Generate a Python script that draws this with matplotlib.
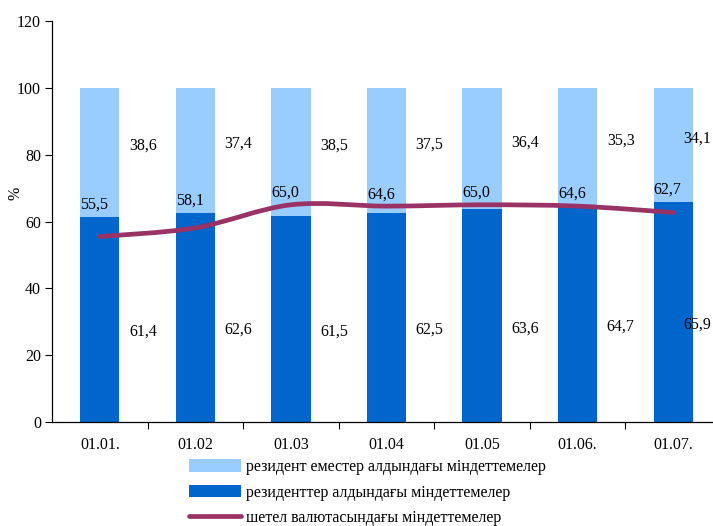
import matplotlib
matplotlib.use("Agg")
import matplotlib.pyplot as plt
from matplotlib.path import Path
from matplotlib.patches import PathPatch, Patch
from matplotlib.lines import Line2D
import numpy as np

categories = ["01.01.", "01.02", "01.03", "01.04", "01.05", "01.06.", "01.07."]
residents = [61.4, 62.6, 61.5, 62.5, 63.6, 64.7, 65.9]
non_residents = [38.6, 37.4, 38.5, 37.5, 36.4, 35.3, 34.1]
foreign_currency = [55.5, 58.1, 65.0, 64.6, 65.0, 64.6, 62.7]

labels_legend = ["резидент еместер алдындағы міндеттемелер",
                 "резиденттер алдындағы міндеттемелер",
                 "шетел валютасындағы міндеттемелер"]

plt.rcParams['font.family'] = ['Liberation Serif', 'DejaVu Serif']
FS = 11.5
plt.rcParams['font.size'] = FS

LIGHT = "#99CCFF"
DARK = "#0066CC"
LINE = "#993366"

W, H = 713, 526
fig = plt.figure(figsize=(W / 100, H / 100), dpi=100)
ax = fig.add_axes([52 / W, 104 / H, 669 / W, 401 / H])

x = np.arange(len(categories))
n = len(categories)
w = 0.41
ax.bar(x, residents, width=w, color=DARK, zorder=2)
ax.bar(x, non_residents, width=w, bottom=residents, color=LIGHT, zorder=2)

ax.set_xlim(-0.5, n - 0.5)
ax.set_ylim(0, 120)

# smooth line (Catmull-Rom converted to cubic Bezier), drawn in data coords
pts = np.column_stack([x, foreign_currency]).astype(float)
verts = [tuple(pts[0])]
codes = [Path.MOVETO]
for i in range(n - 1):
    p0 = pts[i - 1] if i > 0 else pts[i]
    p1 = pts[i]
    p2 = pts[i + 1]
    p3 = pts[i + 2] if i + 2 < n else pts[i + 1]
    c1 = p1 + (p2 - p0) / 6.0
    c2 = p2 - (p3 - p1) / 6.0
    verts += [tuple(c1), tuple(c2), tuple(p2)]
    codes += [Path.CURVE4, Path.CURVE4, Path.CURVE4]
ax.add_patch(PathPatch(Path(verts, codes), facecolor='none', edgecolor=LINE,
                       lw=3.4, capstyle='round', joinstyle='round', zorder=3))

# labels (kept inside the figure like the reference)
for i in range(n):
    cx_px = ax.transData.transform((x[i], 0))[0]
    off = min(31.0, (W - 16 - cx_px) * 72 / 100)
    ax.annotate(f"{non_residents[i]:.1f}".replace('.', ','),
                xy=(x[i], residents[i] + non_residents[i] * 0.55),
                xytext=(off, 0), textcoords='offset points',
                ha='center', va='center', fontsize=FS, zorder=4)
    ax.annotate(f"{residents[i]:.1f}".replace('.', ','),
                xy=(x[i], residents[i] * 0.44),
                xytext=(off, 0), textcoords='offset points',
                ha='center', va='center', fontsize=FS, zorder=4)
    top = max(foreign_currency[i], residents[i])
    ax.annotate(f"{foreign_currency[i]:.1f}".replace('.', ','),
                xy=(x[i], top), xytext=(-4, 8.5), textcoords='offset points',
                ha='center', va='center', fontsize=FS, zorder=4)

ax.set_yticks(np.arange(0, 121, 20))
ax.set_xticks(x)
ax.set_xticklabels(categories)
ax.set_xticks(np.arange(0.5, n - 0.5, 1.0), minor=True)
ax.tick_params(axis='x', which='major', length=0, pad=11, labelsize=FS)
ax.tick_params(axis='x', which='minor', length=5, direction='out', width=0.8)
ax.tick_params(axis='y', length=5, direction='out', width=0.8, labelsize=FS, pad=3)
for s in ['top', 'right']:
    ax.spines[s].set_visible(False)
for s in ['left', 'bottom']:
    ax.spines[s].set_linewidth(0.9)
fig.text(15 / W, 1 - 193 / H, "%", rotation=90, ha='center', va='center', fontsize=FS)

handles = [Patch(facecolor=LIGHT, edgecolor='none'),
           Patch(facecolor=DARK, edgecolor='none'),
           Line2D([0], [0], color=LINE, lw=3.4, solid_capstyle='round')]
fig.legend(handles, labels_legend, loc='upper left',
           bbox_to_anchor=(189 / W, 1 - 459 / H), frameon=False,
           handlelength=3.25, handleheight=0.8, handletextpad=0.3,
           labelspacing=0.6, fontsize=FS, borderpad=0, borderaxespad=0)

fig.savefig("out.png", dpi=100)
